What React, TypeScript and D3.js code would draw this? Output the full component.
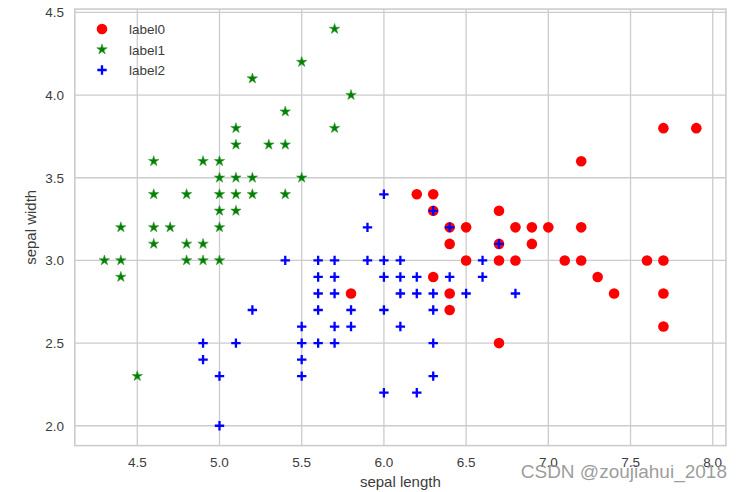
import * as d3 from "d3";

// cluster label0 (red circles)
const label0: [number, number][] = [
  [5.8, 2.8], [6.2, 3.4], [6.3, 3.4], [6.3, 3.3], [6.4, 3.2], [6.5, 3.2],
  [6.4, 3.1], [6.5, 3.0], [6.3, 2.9], [6.4, 2.8], [6.4, 2.7], [6.7, 3.3],
  [6.8, 3.2], [6.9, 3.2], [7.0, 3.2], [7.2, 3.2], [6.7, 3.1], [6.9, 3.1],
  [6.7, 3.0], [6.8, 3.0], [7.1, 3.0], [7.2, 3.0], [7.3, 2.9], [7.4, 2.8],
  [7.7, 2.8], [7.6, 3.0], [7.7, 3.0], [7.7, 2.6], [7.2, 3.6], [7.7, 3.8],
  [7.9, 3.8], [6.7, 2.5],
];

// cluster label1 (green stars)
const label1: [number, number][] = [
  [5.1, 3.5], [4.9, 3.0], [4.7, 3.2], [4.6, 3.1], [5.0, 3.6], [5.4, 3.9],
  [4.6, 3.4], [5.0, 3.4], [4.4, 2.9], [4.9, 3.1], [5.4, 3.7], [4.8, 3.4],
  [4.8, 3.0], [4.3, 3.0], [5.8, 4.0], [5.7, 4.4], [5.7, 3.8], [5.1, 3.8],
  [5.4, 3.4], [5.1, 3.7], [4.6, 3.6], [5.1, 3.3], [5.0, 3.0], [5.2, 3.5],
  [5.2, 3.4], [4.8, 3.1], [5.2, 4.1], [5.5, 4.2], [5.0, 3.2], [5.5, 3.5],
  [4.9, 3.6], [4.4, 3.0], [5.1, 3.4], [5.0, 3.5], [4.5, 2.3], [4.4, 3.2],
  [4.6, 3.2], [5.3, 3.7], [5.0, 3.3],
];

// cluster label2 (blue plus)
const label2: [number, number][] = [
  [4.9, 2.5], [4.9, 2.4], [5.0, 2.3], [5.0, 2.0], [5.1, 2.5], [5.2, 2.7],
  [5.4, 3.0], [5.5, 2.6], [5.5, 2.5], [5.5, 2.4], [5.5, 2.3], [5.6, 3.0],
  [5.6, 2.9], [5.6, 2.8], [5.6, 2.7], [5.6, 2.5], [5.7, 3.0], [5.7, 2.9],
  [5.7, 2.8], [5.7, 2.6], [5.7, 2.5], [5.8, 2.7], [5.8, 2.6], [5.9, 3.2],
  [5.9, 3.0], [6.0, 3.4], [6.0, 3.0], [6.0, 2.9], [6.0, 2.7], [6.0, 2.2],
  [6.1, 3.0], [6.1, 2.9], [6.1, 2.8], [6.1, 2.6], [6.2, 2.9], [6.2, 2.8],
  [6.2, 2.2], [6.3, 3.3], [6.3, 2.8], [6.3, 2.7], [6.3, 2.5], [6.3, 2.3],
  [6.4, 3.2], [6.4, 2.9], [6.5, 2.8], [6.6, 3.0], [6.6, 2.9], [6.7, 3.1],
  [6.8, 2.8],
];

const xTicks = [4.5, 5.0, 5.5, 6.0, 6.5, 7.0, 7.5, 8.0];
const yTicks = [2.0, 2.5, 3.0, 3.5, 4.0, 4.5];
const legendLabels = ["label0", "label1", "label2"];

const W = 742;
const H = 492;
const plot = { left: 74.8, right: 725.9, top: 9.1, bottom: 445.6 };
const font = "'Liberation Sans', Arial, sans-serif";
const gridColor = "#cccccc";
const textColor = "#3c3c3c";

const all = [...label0, ...label1, ...label2];
const padded = (ext: [number, number]) => {
  const p = (ext[1] - ext[0]) * 0.05;
  return [ext[0] - p, ext[1] + p];
};
const x = d3
  .scaleLinear()
  .domain(padded(d3.extent(all, (d) => d[0]) as [number, number]))
  .range([plot.left, plot.right]);
const y = d3
  .scaleLinear()
  .domain(padded(d3.extent(all, (d) => d[1]) as [number, number]))
  .range([plot.bottom, plot.top]);

const circle = d3.symbol(d3.symbolCircle, 88)()!;
const star = d3.symbol(d3.symbolStar, 34)()!;
const plus = "M-4.7,0H4.7M0,-4.7V4.7";

function Marker({ kind, cx, cy }: { kind: number; cx: number; cy: number }) {
  if (kind === 0)
    return <path d={circle} transform={`translate(${cx},${cy})`} fill="red" />;
  if (kind === 1)
    return (
      <path
        d={star}
        transform={`translate(${cx},${cy})`}
        fill="green"
        stroke="#3a9a3a"
        strokeWidth={0.6}
      />
    );
  return (
    <path
      d={plus}
      transform={`translate(${cx},${cy})`}
      fill="none"
      stroke="blue"
      strokeWidth={2.3}
    />
  );
}

export default function App() {
  const series = [label0, label1, label2];
  return (
    <svg
      width={W}
      height={H}
      style={{ position: "absolute", left: 0, top: 0, background: "#fff" }}
      fontFamily={font}
    >
      <rect width={W} height={H} fill="#fff" />
      {/* grid */}
      {xTicks.map((t) => (
        <line
          key={"gx" + t}
          x1={x(t)}
          x2={x(t)}
          y1={plot.top}
          y2={plot.bottom}
          stroke={gridColor}
          strokeWidth={1.3}
        />
      ))}
      {yTicks.map((t) => (
        <line
          key={"gy" + t}
          x1={plot.left}
          x2={plot.right}
          y1={y(t)}
          y2={y(t)}
          stroke={gridColor}
          strokeWidth={1.3}
        />
      ))}
      <rect
        x={plot.left}
        y={plot.top}
        width={plot.right - plot.left}
        height={plot.bottom - plot.top}
        fill="none"
        stroke={gridColor}
        strokeWidth={1.6}
      />
      {/* points */}
      {series.map((s, k) =>
        s.map((d, i) => (
          <Marker key={k + "-" + i} kind={k} cx={x(d[0])} cy={y(d[1])} />
        )),
      )}
      {/* tick labels */}
      {xTicks.map((t) => (
        <text
          key={"tx" + t}
          x={x(t)}
          y={467}
          textAnchor="middle"
          fontSize={13.5}
          fill={textColor}
        >
          {t.toFixed(1)}
        </text>
      ))}
      {yTicks.map((t) => (
        <text
          key={"ty" + t}
          x={64}
          y={y(t) + 5}
          textAnchor="end"
          fontSize={13.5}
          fill={textColor}
        >
          {t.toFixed(1)}
        </text>
      ))}
      <text
        x={(plot.left + plot.right) / 2}
        y={487}
        textAnchor="middle"
        fontSize={15}
        fill={textColor}
      >
        sepal length
      </text>
      <text
        transform={`translate(36,${(plot.top + plot.bottom) / 2}) rotate(-90)`}
        textAnchor="middle"
        fontSize={15}
        fill={textColor}
      >
        sepal width
      </text>
      {/* legend */}
      {legendLabels.map((l, i) => (
        <g key={l} transform={`translate(0,${29 + i * 20.5})`}>
          <Marker kind={i} cx={102} cy={0} />
          <text x={129} y={5} fontSize={13.5} fill={textColor}>
            {l}
          </text>
        </g>
      ))}
      {/* watermark */}
      <text
        x={727}
        y={478}
        textAnchor="end"
        fontSize={19}
        fill="#8a8a8a"
        fillOpacity={0.85}
      >
        CSDN @zoujiahui_2018
      </text>
    </svg>
  );
}
